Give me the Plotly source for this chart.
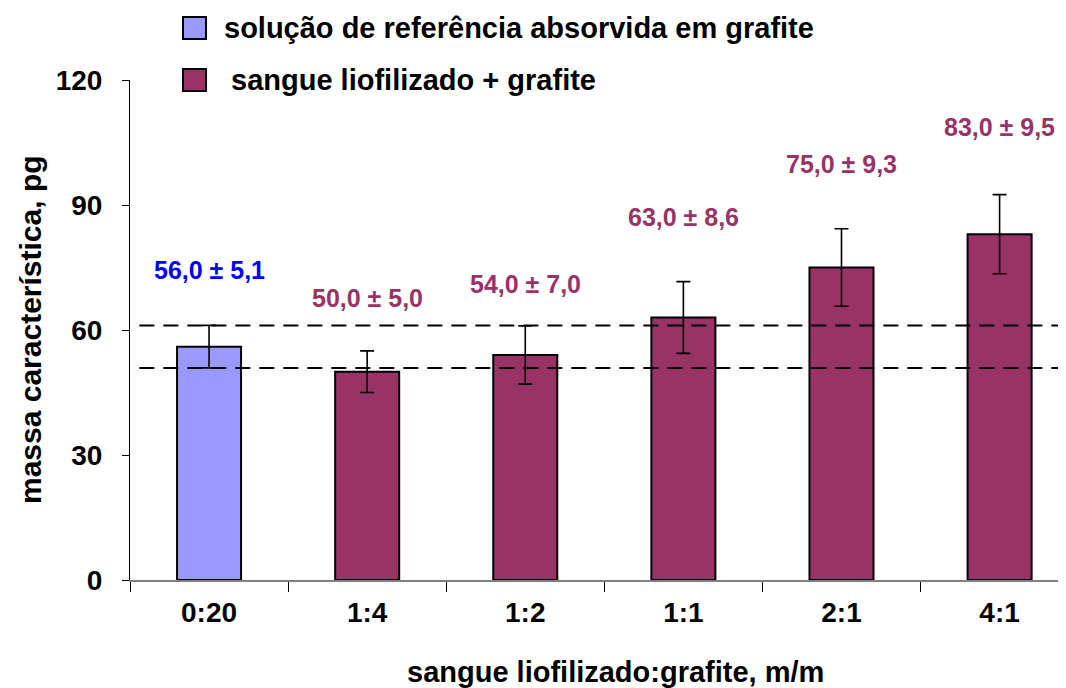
import plotly.graph_objects as go

# dados
categorias = ["0:20", "1:4", "1:2", "1:1", "2:1", "4:1"]
massa = [56.0, 50.0, 54.0, 63.0, 75.0, 83.0]
desvio = [5.1, 5.0, 7.0, 8.6, 9.3, 9.5]
series = ["solução de referência absorvida em grafite"] + ["sangue liofilizado + grafite"] * 5
limites_ref = [61.1, 50.9]

cores = {"solução de referência absorvida em grafite": "#9999FF",
         "sangue liofilizado + grafite": "#993366"}
cores_texto = {"solução de referência absorvida em grafite": "#0000FF",
               "sangue liofilizado + grafite": "#993366"}
# deslocamento vertical dos rótulos acima da barra de erro
desloc_rotulo = [13.3, 12.7, 10.0, 15.5, 15.5, 16.2]

FONTE = "Liberation Sans, Arial, sans-serif"
# a página tem margem de 8px no body: compensar
OFF = 8
L, T, W, H = 130, 80, 936, 500  # área do gráfico em px da página


def px_x(x):
    return (x - L) / W


def px_y(y):
    return (T + H - y) / H


fig = go.Figure()
fig.add_trace(go.Bar(
    x=categorias,
    y=massa,
    width=0.405,
    marker=dict(color=[cores[s] for s in series], line=dict(color="black", width=2)),
    error_y=dict(type="data", array=desvio, visible=True, color="black", thickness=1.6, width=7),
    showlegend=False,
))

for y in limites_ref:
    fig.add_shape(type="line", xref="paper", yref="y", x0=0.01, x1=1, y0=y, y1=y,
                  line=dict(color="black", width=2, dash="15px,9px"))

for c, v, d, s, off in zip(categorias, massa, desvio, series, desloc_rotulo):
    txt = f"{v:.1f} ± {d:.1f}".replace(".", ",")
    fig.add_annotation(x=c, y=v + d + off, text=f"<b>{txt}</b>", showarrow=False,
                       font=dict(family=FONTE, size=25, color=cores_texto[s]))

# legenda manual (quadrados grandes)
for i, nome in enumerate(cores):
    yc = 28 + 52 * i
    fig.add_shape(type="rect", xref="paper", yref="paper",
                  x0=px_x(183), x1=px_x(206), y0=px_y(yc + 11), y1=px_y(yc - 11),
                  fillcolor=cores[nome], line=dict(color="black", width=2))
    fig.add_annotation(xref="paper", yref="paper", x=px_x(222 + 7 * i), y=px_y(yc),
                       xanchor="left", yanchor="middle",
                       text=f"<b>{nome}</b>", showarrow=False,
                       font=dict(family=FONTE, size=29, color="black"))

# títulos dos eixos
fig.add_annotation(xref="paper", yref="paper", x=px_x(615), y=px_y(672),
                   xanchor="center", yanchor="middle",
                   text="<b>sangue liofilizado:grafite, m/m</b>", showarrow=False,
                   font=dict(family=FONTE, size=29, color="black"))
fig.add_annotation(xref="paper", yref="paper", x=px_x(30), y=px_y(330), textangle=-90,
                   xanchor="center", yanchor="middle",
                   text="<b>massa característica, pg</b>", showarrow=False,
                   font=dict(family=FONTE, size=30, color="black"))

fig.update_layout(
    width=1066 - OFF, height=688 - OFF,
    margin=dict(l=L - OFF, r=0, t=T - OFF, b=688 - T - H),
    plot_bgcolor="white", paper_bgcolor="white",
    font=dict(family=FONTE, size=22, color="black"),
    xaxis=dict(
        range=[-0.5, 5.42], automargin=False,
        showline=True, linecolor="#808080", linewidth=2,
        ticks="outside", tickson="boundaries", ticklen=10, tickcolor="black", tickwidth=1,
        tickfont=dict(size=28, family=FONTE, weight="bold"),
        ticklabelstandoff=6,
    ),
    yaxis=dict(
        range=[0, 120], tickvals=[0, 30, 60, 90, 120], automargin=False,
        showline=True, linecolor="black", linewidth=1,
        ticks="outside", ticklen=7, tickcolor="black",
        showgrid=False, zeroline=False,
        tickfont=dict(size=28, family=FONTE, weight="bold"),
        ticklabelstandoff=14,
    ),
)

fig.write_html("out.html")
